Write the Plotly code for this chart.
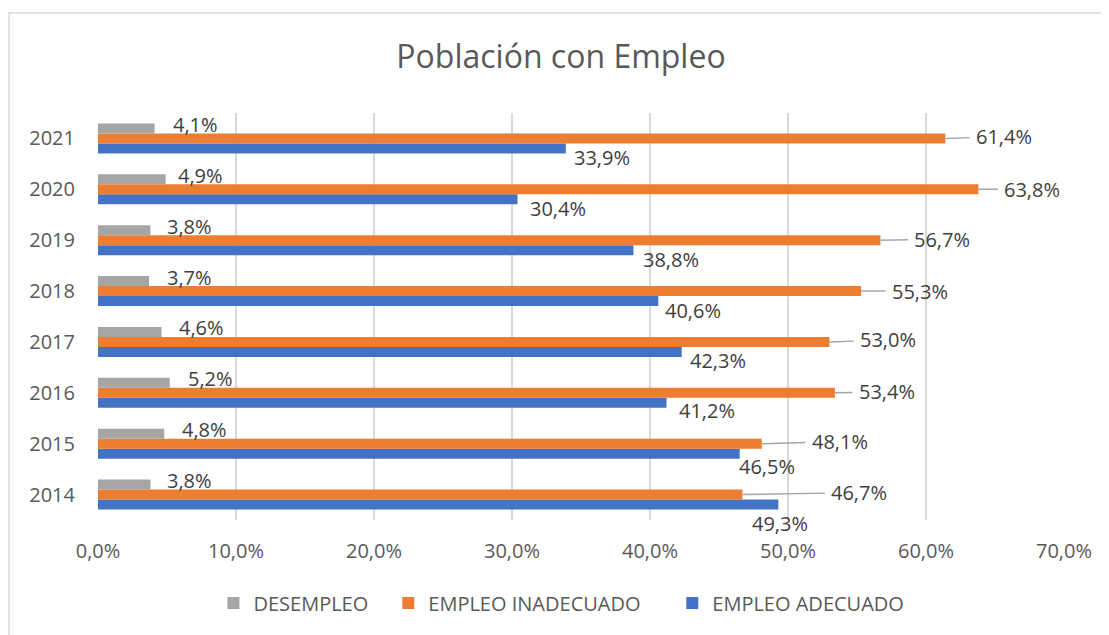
import plotly.graph_objects as go

# ---- data ----
years = [2014, 2015, 2016, 2017, 2018, 2019, 2020, 2021]
desempleo = [3.8, 4.8, 5.2, 4.6, 3.7, 3.8, 4.9, 4.1]
empleo_inadecuado = [46.7, 48.1, 53.4, 53.0, 55.3, 56.7, 63.8, 61.4]
empleo_adecuado = [49.3, 46.5, 41.2, 42.3, 40.6, 38.8, 30.4, 33.9]
x_tick_values = [0, 10, 20, 30, 40, 50, 60, 70]
series_names = ["DESEMPLEO", "EMPLEO INADECUADO", "EMPLEO ADECUADO"]
title_text = "Población con Empleo"

# ---- styles (label placement in pixels, like Excel's auto placement) ----
COL_GRAY, COL_ORANGE, COL_BLUE = "#a5a5a5", "#ed7d31", "#4472c4"
FONT = "Open Sans"
TXT = "#404040"
AX = "#595959"
BARGAP = 0.41
gray_dx = [15, 16, 16, 16, 16, 15, 10, 16]
blue_dx = [-28, -3, 10, 6, 5, 8, 10, 6]
blue_dy = [19, 13, 8, 9, 9, 9, 9, 9]
orange_ax = [117, 78, 52, 59, 59, 62, 54, 59]
orange_ay = [-2, -2, -1, -2, 0, -1, 0, -2]
legend_x = [0.1195, 0.3005, 0.5945]
LEG_Y = -0.204


def fmt(v):
    return f"{v:.1f}".replace(".", ",") + "%"


fig = go.Figure()
fig.add_trace(go.Bar(y=years, x=empleo_adecuado, orientation="h", name=series_names[2],
                     legend="legend3",
                     marker=dict(color=COL_BLUE, line=dict(width=0)), hoverinfo="skip"))
fig.add_trace(go.Bar(y=years, x=empleo_inadecuado, orientation="h", name=series_names[1],
                     legend="legend2",
                     marker=dict(color=COL_ORANGE, line=dict(width=0)), hoverinfo="skip"))
fig.add_trace(go.Bar(y=years, x=desempleo, orientation="h", name=series_names[0],
                     legend="legend",
                     marker=dict(color=COL_GRAY, line=dict(width=0)), hoverinfo="skip"))

w = (1 - BARGAP) / 3
ann = []
for i, yr in enumerate(years):
    ann.append(dict(x=desempleo[i], y=yr + w, text=fmt(desempleo[i]), showarrow=False,
                    xanchor="left", yanchor="middle", xshift=gray_dx[i], yshift=4,
                    font=dict(family=FONT, size=20, color=TXT)))
    ann.append(dict(x=empleo_adecuado[i], y=yr - w, text=fmt(empleo_adecuado[i]), showarrow=False,
                    xanchor="left", yanchor="middle", xshift=blue_dx[i], yshift=-blue_dy[i],
                    font=dict(family=FONT, size=20, color=TXT)))
    ann.append(dict(x=empleo_inadecuado[i], y=yr, text=fmt(empleo_inadecuado[i]), showarrow=True,
                    arrowhead=0, arrowwidth=1.4, arrowcolor="#a6a6a6", standoff=0, borderpad=6,
                    ax=orange_ax[i], ay=orange_ay[i],
                    font=dict(family=FONT, size=20, color=TXT)))

leg_common = dict(orientation="h", xanchor="left", yanchor="middle", y=LEG_Y,
                  bgcolor="rgba(0,0,0,0)", font=dict(family=FONT, size=20, color=AX))

fig.update_layout(
    width=1101, height=627,
    margin=dict(l=90, r=45, t=105, b=115),
    paper_bgcolor="white", plot_bgcolor="white",
    barmode="group", bargap=BARGAP, bargroupgap=0,
    title=dict(text=title_text, x=553 / 1101, xref="container", xanchor="center",
               y=1 - 49 / 627, yref="container", yanchor="middle",
               font=dict(family=FONT, size=32, color=AX)),
    xaxis=dict(range=[0, 70], tickvals=x_tick_values, ticktext=[fmt(v) for v in x_tick_values],
               showgrid=True, gridcolor="#d9d9d9", gridwidth=1.5, zeroline=False, showline=False,
               ticks="", ticklabelstandoff=17, tickfont=dict(family=FONT, size=20, color=AX)),
    yaxis=dict(range=[2013.5, 2021.5], tickvals=years, ticktext=[str(y) for y in years],
               showgrid=False, zeroline=False, showline=False, ticks="", ticklabelstandoff=22,
               tickfont=dict(family=FONT, size=20, color=AX)),
    legend=dict(x=legend_x[0], **leg_common),
    legend2=dict(x=legend_x[1], **leg_common),
    legend3=dict(x=legend_x[2], **leg_common),
    annotations=ann,
    shapes=[dict(type="rect", xref="paper", yref="paper", x0=-0.0921, x1=1.2, y0=-0.35, y1=1.2457,
                 line=dict(color="#d9d9d9", width=1.5), fillcolor="rgba(0,0,0,0)", layer="below")],
    showlegend=True,
)

fig.write_html("out.html")
